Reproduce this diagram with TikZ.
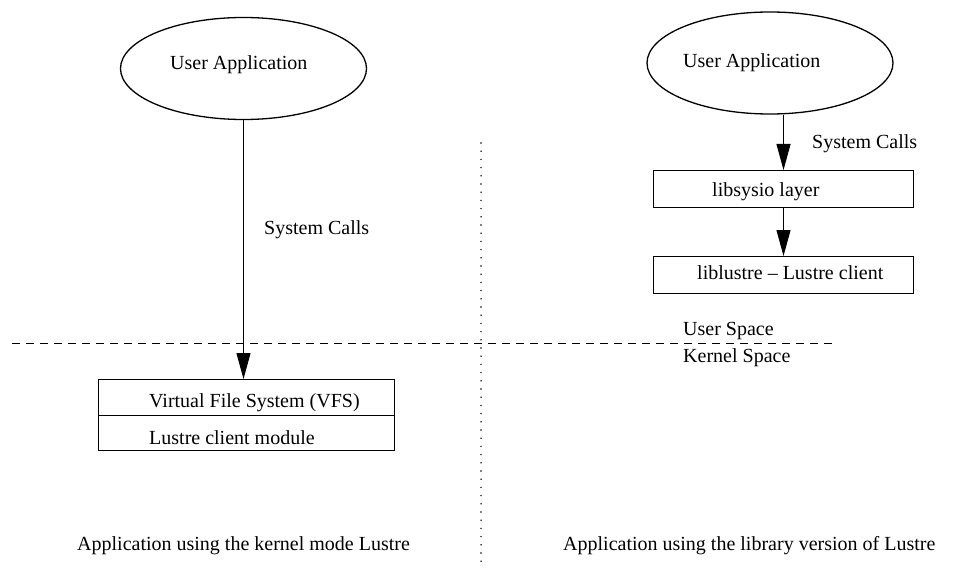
\documentclass[tikz,border=0pt]{standalone}
\usepackage{fontspec}
\setmainfont{Liberation Serif}
\usetikzlibrary{shapes.geometric,arrows.meta}
\begin{document}
\begin{tikzpicture}[x=1pt,y=-1pt,
  every node/.style={font=\fontsize{20}{24}\selectfont},
  txt/.style={anchor=west,inner sep=0pt},
  oval/.style={draw,line width=1.3pt,ellipse,inner sep=0pt,minimum width=246pt,minimum height=102pt},
  layer/.style={draw,line width=1pt,rectangle,inner sep=0pt,anchor=north west},
  arr/.style={line width=1pt,-{Triangle[length=26pt,width=14pt]}},
  sep/.style={line width=0.9pt,dash pattern=on 8pt off 6pt},
  dots/.style={line width=1.6pt,line cap=round,dash pattern=on 0pt off 8.2pt}]
\useasboundingbox (0,0) rectangle (965,572);
% left side
\node[oval] (ua1) at (243.5,68.5) {};
\node[txt] (ua1t) at (170,65) {User Application};
\node[layer,minimum width=296pt,minimum height=36pt] (vfs) at (98,379) {};
\node[layer,minimum width=296pt,minimum height=35pt] (lcm) at (98,415) {};
\node[txt] (vfst) at (149,403) {Virtual File System (VFS)};
\node[txt] (lcmt) at (149,438) {Lustre client module};
\draw[arr] (ua1.south) -- (ua1.south |- vfs.north);
\node[txt] (sc1) at (264,230) {System Calls};
% right side
\node[oval] (ua2) at (770,63) {};
\node[txt] (ua2t) at (683,63) {User Application};
\node[layer,minimum width=260pt,minimum height=37pt] (sys) at (653,170) {};
\node[layer,minimum width=260pt,minimum height=37pt] (lib) at (653,256) {};
\node[txt] (syst) at (712,192) {libsysio layer};
\node[txt] (libt) at (697,273) {liblustre -- Lustre client};
\node[txt] (sc2) at (812,144) {System Calls};
\draw[arr] (sys.north |- ua2.south) -- (sys.north);
\draw[arr] (sys.south) -- (lib.north);
% separators
\coordinate (dl) at (12,343);
\coordinate (dr) at (833,343);
\draw[sep] (dl) -- (dr);
\coordinate (vt) at (481,143);
\coordinate (vb) at (481,566);
\draw[dots] (vt) -- (vb);
\node[txt] (us) at (683,331) {User Space};
\node[txt] (ks) at (683,358) {Kernel Space};
% captions
\node[txt] (cap1) at (77,546) {Application using the kernel mode Lustre};
\node[txt] (cap2) at (563,546) {Application using the library version of Lustre};
\end{tikzpicture}
\end{document}
